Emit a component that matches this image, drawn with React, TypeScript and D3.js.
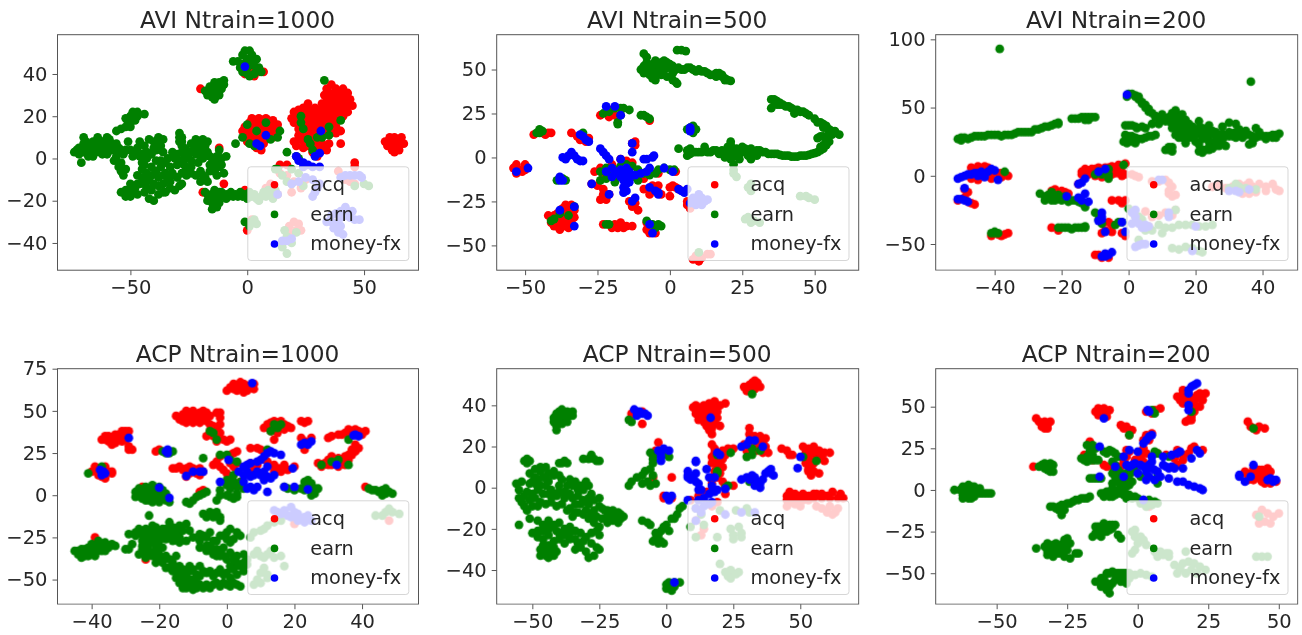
import * as d3 from "d3";
import React from "react";
import { useRef, useEffect } from "react";

type Pt = [number, number];

const categories = ["acq", "earn", "money-fx"];
const colors = ["#ff0000", "#008000", "#0000ff"];

// AVI Ntrain=1000
const avi1000Acq: Pt[] = [[-1,40],[3,39],[5,41],[7,41],[2,42],[-20,33],[2,19],[5,19],[8,19],[11,18],[13,16],[1,17],[4,17],[7,17],[10,16],[-1,15],[1,14],[4,14],[7,14],[10,14],[12,13],[-2,13],[0,12],[3,11],[6,11],[9,11],[11,10],[2,9],[5,8],[7,7],[4,5],[6,4],[0,8],[3,7],[36,35],[34,33],[38,33],[35,31],[37,31],[41,33],[33,30],[35,29],[38,29],[40,30],[43,31],[34,27],[36,27],[39,27],[41,28],[44,28],[32,26],[34,25],[37,25],[40,25],[43,25],[45,25],[31,23],[33,22],[36,23],[38,23],[41,23],[43,22],[30,20],[32,19],[35,20],[38,20],[41,20],[28,18],[31,16],[34,17],[37,18],[27,15],[30,14],[33,14],[36,15],[26,12],[29,11],[32,11],[35,12],[38,12],[40,13],[26,26],[24,24],[22,23],[20,22],[27,23],[29,24],[30,22],[26,21],[23,21],[19,19],[20,17],[24,18],[27,18],[26,16],[22,14],[25,12],[20,8],[22,9],[24,8],[27,8],[21,6],[24,5],[26,6],[29,7],[32,7],[35,7],[40,7],[28,3],[31,3],[34,4],[30,1],[59,8],[61,10],[63,10],[66,10],[60,6],[62,8],[64,8],[66,7],[67,7],[62,5],[64,5],[63,3],[62,4],[65,4],[-12,5],[-19,-16],[-10,-12],[-1,-15],[17,-3],[46,-2],[46,-4],[14,-3],[0,-34],[2,-29],[14,-7],[17,-8],[20,-11],[10,-13],[8,-14],[13,-17],[19,-16],[23,-14],[25,-10],[39,-6],[42,-10],[44,-11],[46,-12],[18,-32],[20,-30],[22,-31],[23,-34],[17,-35],[19,-36],[21,-34],[10,-12],[3,18],[6,18],[9,18],[2,15],[5,15],[8,15],[11,15],[1,11],[4,9],[8,9],[3,13],[6,13],[9,13],[39,31],[37,29],[42,30],[35,27],[38,26],[42,26],[35,23],[39,22],[33,21],[37,21],[40,22],[30,18],[33,18],[36,18],[39,18],[29,16],[32,14],[35,14],[38,15],[27,13],[30,12],[33,12],[23,10],[25,9],[28,9],[31,9],[25,6],[30,5],[33,5],[25,23],[28,22],[24,20],[21,20],[21,18],[25,18],[23,15],[29,20],[22,11]];
const avi1000Earn: Pt[] = [[-1,51],[1,51],[-2,49],[2,49],[0,47],[-4,46],[-1,45],[2,46],[4,47],[-3,43],[0,43],[3,44],[5,43],[-2,41],[0,40],[1,39],[6,41],[-6,46],[3,40],[-10,37],[-12,36],[-14,36],[-16,34],[-13,34],[-10,35],[-18,32],[-16,32],[-14,32],[-11,33],[-17,30],[-15,30],[-13,31],[-14,28],[-15,29],[-12,30],[-44,21],[-47,22],[-49,22],[-50,20],[-47,20],[-49,18],[-51,17],[-48,18],[-52,15],[-54,14],[-50,15],[-56,13],[-52,19],[-74,3],[-72,5],[-72,2],[-71,-2],[-70,7],[-70,10],[-70,3],[-68,5],[-68,1],[-66,8],[-66,4],[-66,1],[-64,10],[-64,6],[-63,3],[-62,8],[-61,5],[-60,10],[-60,2],[-58,7],[-58,4],[-57,-1],[-56,4],[-55,-4],[-54,-6],[-53,-8],[-55,5],[-52,4],[-50,4],[-48,3],[-46,1],[-45,-2],[-51,8],[-46,8],[-44,6],[-42,9],[-40,8],[-38,10],[-36,9],[-37,6],[-40,5],[-43,3],[-45,-5],[-47,-8],[-43,-7],[-41,-4],[-39,-1],[-37,-4],[-35,-7],[-33,-4],[-34,0],[-32,3],[-30,2],[-28,3],[-27,0],[-30,-3],[-32,-7],[-34,-10],[-36,-12],[-38,-9],[-40,-12],[-42,-10],[-44,-12],[-46,-12],[-48,-14],[-50,-12],[-52,-15],[-54,-16],[-52,-18],[-50,-18],[-49,-15],[-47,-17],[-44,-16],[-42,-19],[-40,-20],[-38,-17],[-36,-16],[-33,-14],[-31,-15],[-29,-13],[-33,-11],[-30,-9],[-28,-7],[-29,12],[-28,10],[-29,8],[-28,6],[-26,4],[-24,7],[-22,9],[-20,8],[-22,5],[-25,2],[-24,-1],[-22,2],[-20,4],[-18,6],[-17,3],[-19,0],[-21,-2],[-24,-4],[-26,-5],[-22,-8],[-20,-11],[-18,-9],[-16,-6],[-15,-2],[-13,1],[-12,4],[-11,0],[-9,1],[-12,-4],[-10,-7],[-13,-8],[-15,-5],[-18,-16],[-16,-18],[-14,-15],[-12,-16],[-17,-20],[-15,-21],[-13,-20],[-11,-18],[-9,-17],[-7,-16],[-5,-17],[-3,-16],[-1,-17],[-15,-24],[-13,-23],[-16,-19],[-9,-19],[2,-18],[4,-19],[6,-18],[8,-18],[10,-17],[12,-15],[1,-16],[0,16],[8,17],[4,13],[-2,10],[-5,7],[1,7],[10,9],[13,10],[14,13],[3,6],[17,3],[33,37],[23,20],[23,17],[24,14],[26,9],[27,7],[30,10],[32,10],[35,15],[35,11],[40,18],[28,4],[22,0],[21,1],[12,-5],[13,-5],[19,-5],[16,-34],[17,-37],[15,-42],[17,-45],[19,-40],[21,-35],[2,-30],[1,-32],[3,-29],[-1,-30],[4,-31],[17,-11],[19,-12],[15,-8],[24,-13],[46,-13],[52,-13],[50,-12],[22,-7],[-73,4],[-71,4],[-69,8],[-69,5],[-67,6],[-67,3],[-65,6],[-65,3],[-63,8],[-63,5],[-62,2],[-61,8],[-59,6],[-59,9],[-60,5],[-57,5],[-56,7],[-54,4],[-53,2],[-56,1],[-54,-2],[-52,-5],[-49,1],[-47,5],[-45,2],[-43,0],[-44,-3],[-41,2],[-39,4],[-38,7],[-36,3],[-35,-2],[-36,-8],[-39,-6],[-41,-8],[-43,-11],[-45,-9],[-41,-15],[-38,-13],[-35,-16],[-43,-14],[-47,-12],[-50,-15],[-37,-1],[-33,-8],[-31,0],[-29,-1],[-27,-3],[-26,-8],[-24,-7],[-28,-12],[-20,1],[-18,3],[-16,1],[-17,8],[-19,9],[-21,6],[-23,4],[-20,6],[-16,-3],[-14,-1],[-14,-6],[-11,-3],[-17,-11],[-19,-8],[-20,-6],[-13,-3],[-15,-17],[-13,-18],[-11,-16],[-17,-17],[-14,-19],[-12,-21],[-8,-18],[-6,-18],[-4,-18],[-2,-18],[0,-19],[3,-17],[5,-20],[7,-16],[9,-15],[11,-19],[-29,10],[-28,8],[-27,5]];
const avi1000Money: Pt[] = [[-1,43.5],[8,11],[4,7],[5.5,6],[31.5,13],[31,2.5],[29,1],[21,1],[22,-1],[24,-2],[26,-3],[28,-4],[31,-4],[24,-4],[13,-17],[19,-12],[22,-11],[25,-9],[28,-10],[29,-16],[28,-18],[30,-14],[31,-12],[42,-8],[44,-8],[46,-8],[48,-8],[49,-9],[40,-9],[15,-39],[17,-39],[19,-38],[34,-30],[36,-30],[38,-31],[40,-28],[42,-27],[44,-28],[46,-29],[48,-29],[42,-23],[43,-25],[37,-33],[39,-35],[41,-36],[36,-27],[38,-26],[40,-25],[45,-25],[40,-32]];

// AVI Ntrain=500
const avi500Acq: Pt[] = [[-54,-6],[-53,-4],[-52,-7],[-50,-4],[-51,-8],[-50,-7],[-53,-9],[-47,13],[-44,14],[-42,14],[-41,14],[-43,13],[-34,14],[-32,12],[-30,12],[-28,11],[-29,9],[-31,10],[-42,-33],[-41,-35],[-40,-37],[-39,-39],[-38,-41],[-37,-39],[-36,-37],[-35,-40],[-38,-35],[-39,-32],[-37,-32],[-35,-30],[-36,-27],[-34,-27],[-33,-30],[-33,-34],[-34,-36],[-40,-33],[-36,-34],[-23,-38],[-20,-40],[-19,-38],[-18,-40],[-17,-37],[-16,-40],[-15,-39],[-13,-39],[-8,-41],[-7,-43],[-5,-43],[-8,-37],[-26,-8],[-24,-6],[-23,-10],[-21,-8],[-19,-11],[-17,-1],[-15,-2],[-13,-3],[-11,-10],[-9,-12],[-27,-15],[-25,-16],[-23,-18],[-24,-24],[-22,-24],[-23,-21],[-21,-21],[-14,-25],[-13,-28],[-11,-30],[-12,-26],[-6,-16],[-7,-21],[-5,-19],[-3,-21],[-9,-18],[-4,-16],[0,-22],[0,-17],[1,-16],[2,-17],[3,-18],[-12,9],[-13,8],[-12,7],[-24,24],[-21,23],[-19,24],[-20,27],[-7,21],[-20,-4],[2,-8],[-4,-9],[6,-25],[6,-27],[7,-29],[9,-56],[11,-57],[10,-59],[8,-58],[13,-55],[14,-55],[-41,-37],[-39,-36],[-37,-36],[-38,-38],[-36,-39],[-40,-39],[-35,-35],[-37,-29],[-34,-32]];
const avi500Earn: Pt[] = [[-9,59],[-8,57],[2.5,61],[4,61],[5.5,60.5],[-10,50],[-9,52],[-8,54],[-7,51],[-6,53],[-5,55],[-4,52],[-3,54],[-2,55],[-1,51],[0,53],[1,52],[2,50],[3,51],[5,50],[7,51],[9,49],[11,49],[13,48],[15,47],[17,48],[18,46],[19,45],[20,44],[21,43.5],[-9,48],[-7,47],[-6,45],[-5,44],[-3,47],[-1,46],[1,48],[1,44],[2,43],[2.5,42],[-8,49],[-4,49],[14,47],[16,46],[35,33],[36,32],[38,31],[39,30],[37,30],[40,29],[42,28],[44,27],[45,26],[47,25],[43,25],[35,28],[48,24],[52,20],[54,18],[53,17],[55,16],[56,15],[57,14],[58.5,13],[55,13],[52,12],[51,11],[54,11],[55,9],[54,7],[53,5],[52,4],[50,2.5],[48,1.5],[46,1],[44,0.5],[42,0.5],[40,1],[38,1.5],[36,2],[34,2],[32,3],[30,4],[28,5],[26,3],[24,2],[22,1],[20,3],[18,4],[16,4],[21,7],[21,9],[23,5],[25,6],[27,1],[24,-1],[21,-1],[19,0],[17,2],[14,3],[12,6],[10,3],[8,3],[6,1],[6,4],[7,5],[3,5],[28,-1],[22,-4],[30,1],[22,-7],[22,-9],[23,-11],[27,-17],[28,-15],[28,-19],[45,-22],[47,-22],[48,-23],[50,-24],[27,-34],[28,-37],[29,-36],[31,-37],[26,-35],[10,-54],[7,17],[8,18],[6,16],[9,16],[8,14],[-23,25],[-21,26],[-19,28],[-17,28],[-16,28],[-14,27],[-17,24],[-18,20],[-18,19],[-10,24],[-9,24],[-8,23],[-7,22],[-46,14],[-45,16],[-44,15],[-45,14],[-24,-8],[-22,-6],[-21,-9],[-19,-7],[-17,-5],[-15,-4],[-13,-5],[-11,-7],[-9,-9],[-7,-10],[-5,-9],[-4,-7],[-2,-6],[0,-7],[1.5,-7],[-17,-11],[-19,-14],[-22,-12],[-24,-13],[-11,-13],[-13,-11],[-39,-13],[-36,-13],[-37,-12],[-41,-36],[-40,-35],[-38,-32],[-35,-33],[-33,-28],[-21,-38],[-22,-38],[-8,-36],[-6,-38],[-5,-40],[-4,-38],[-3,-39],[-30,14],[4,50],[6,51],[8,50],[10,50],[12,49],[16,48],[18,47],[19,44],[36,33],[37,32],[38,30],[41,29],[43,27],[46,26],[50,22],[51,20],[53,19],[54,17],[55,15],[57,15],[56,13],[53,12],[54,9],[53,7],[52,6],[51,3],[49,2],[47,1],[45,1],[43,0.5],[41,1],[39,1],[37,2],[35,2],[33,3],[31,4],[29,3],[27,4],[25,3],[23,3],[22,4],[20,1],[18,2],[15,4],[13,3],[11,3],[9,3],[7,2],[24,4],[26,5],[21,3],[20,6],[-6,49],[-2,50],[-1,54],[-3,51],[-8,51],[-5,47],[-7,49],[-9,50]];
const avi500Money: Pt[] = [[-22,29],[-19,29],[-17,24],[-24,5],[-23,3],[-22,1],[-21,-1],[-37,0],[-36,-1],[-35,1],[-34,3],[-33,1],[-32,-1],[-31,-2],[-30,-2],[-31,13],[-30,12],[-29,10],[-28,9],[-13,8],[-13,3],[-17,-1],[-9,-1],[-8,-1],[-6,0],[-5.5,1],[-53,-8],[-49,-6],[-38,-11],[-38,-12],[-38,-13],[-37,-13],[-27,-15],[-21,-21],[-38,-30],[-33,-28],[-33,-39],[-7,-38],[-6,-43],[-7,-17],[-5,-19],[-4,-20],[-4,-21],[-13,-25],[-12,-23],[6,-18],[-2,-6],[1,-8],[3,-18],[4,-19],[5,-20],[7,15],[7,16],[7,17],[-22,-8],[-20,-6],[-19,-8],[-18,-9],[-17,-7],[-16,-9],[-15,-6],[-14,-8],[-17,-11],[-16,-13],[-15,-10],[-14,-12],[-15,-15],[-16,-17],[-15,-19],[-16,-20],[-12,-10],[-10,-9],[-8,-8],[-7,-6],[-20,-11],[-14,-14],[8,-23],[9,-25],[10,-21],[11,-23],[12,-25],[9,-27],[7,-26],[13,-24],[11,-27]];

// AVI Ntrain=200
const avi200Acq: Pt[] = [[-47,6],[-45,7],[-43,7],[-46,4],[-44,3],[-42,4],[-40,3],[-38,2],[-37,1],[-36,0],[-38,-1],[-41,-2],[-45,-3],[-47,-2],[-49,-10],[-48,-12],[-51,-18],[-49,-16],[-48,-19],[-46,-21],[-47,-20],[-41,-44],[-39,-43],[-38,-44],[-37,-43],[-36,-42],[-14,3],[-13,5],[-11,5],[-9,6],[-7,6],[-5,7],[-3,8],[-1,9],[-14,1],[-12,1],[-10,0],[-8,-1],[-5,1],[-3,2],[-2,2],[-1,1],[-3,5],[-15,-6],[-22,-10],[-20,-11],[-18,-13],[-5,-18],[-3,-18],[-1,-18],[-2,-20],[-23,-38],[-21,-40],[-6,-34],[-5,-36],[-8,-42],[-7,-40],[-5,-41],[-2,-42],[-1,-44],[-10,-58],[-9,-58],[-8,-60],[-6,-60],[1,1],[2,0],[3,-1],[7,-4],[9,-4],[11,-3],[12,-5],[13,-8],[12,-11],[12,-13],[13,-15],[14,-14],[25,-8],[27,-7],[29,-9],[31,-8],[33,-6],[35,-7],[36,-5],[37,-8],[39,-6],[41,-8],[43,-6],[45,-11],[34,-13],[36,-13],[38,-12],[41,-11],[44,-10],[5,-26],[7,-30],[9,-29],[11,-27],[13,-29],[14,-25],[6,-37],[-44,5],[-42,6],[-41,3],[-39,2],[-37,2],[-12,4],[-10,5],[-8,5],[-6,6],[-4,6],[-2,7],[-13,2],[-11,2],[-9,1],[-7,1],[-4,2],[-2,0],[-23,-11],[-19,-12]];
const avi200Earn: Pt[] = [[-38.5,93],[36.5,69],[-51,27],[-50,26],[-49,28],[-47,28],[-45,29],[-43,29],[-41,30],[-39,30],[-37,30],[-35,30],[-33,32],[-31,32],[-29,32],[-28,34],[-26,35],[-25,36],[-23,37],[-22,38],[-21,39],[-17,42],[-15,42],[-14,43],[-13,41],[-12,43],[-11,43],[-10,43],[-1,37],[1,37],[2.5,35],[-1,30],[1,29],[3,27],[5,28],[7,29],[8,30],[-1.5,25],[0,25],[2,24],[-0.5,58],[0,60],[1,60],[2,58],[3,58],[3,56],[4,54],[5,52],[6,49],[7,46],[8,44],[9,42],[5,35],[7,38],[9,38],[10,45],[11,40],[12,43],[13,46],[14,48],[15,43],[16,45],[17,41],[13,38],[14,35],[15,33],[16,37],[17,35],[18,38],[19,33],[20,30],[21,40],[22,35],[23,33],[24,37],[26,32],[28,36],[27,30],[30,39],[32,38],[33,34],[35,33],[36,30],[38,35],[39,32],[40,29],[42,29],[43,28],[44,30],[45,31],[41,27],[37,25],[36,23],[37,24],[34,28],[32,28],[30,29],[28,27],[26,26],[24,25],[22,27],[20,25],[18,28],[17,24],[16,28],[14,30],[12,19],[12,20],[13,21],[27,22],[25,20],[23,19],[21,18],[22,17],[24,19],[21,23],[29,22],[31,29],[34,31],[-26.5,-13],[-25,-15],[-24,-14],[-23,-12],[-22,-15],[-21,-14],[-25,-18],[-23,-18],[-21,-17],[-19,-15],[-18,-19],[-16,-18],[-14,-20],[-13,-23],[-21,-38],[-20,-38],[-18,-38],[-16,-38],[-14,-38],[-13,-37],[-41,-42],[-40,-42],[-39,-42],[-10,-27],[-9,-32],[-8,-35],[-4,-36],[-3,-34],[-2,-34],[-10,1],[-9,3],[-8,1],[-6,-1],[-6,1],[-6,5],[-1.5,8],[-37,3],[-6,-2],[0,-24],[1,-26],[2,-30],[4,-32],[9,-36],[11,-38],[13,-38],[15,-36],[17,-36],[19,-36],[21,-37],[23,-37],[25,-36],[7,-40],[10,-42],[3,-30],[14,-25],[13,-53],[15,-54],[17,-52],[19,-53],[21,-55],[22,-56],[3,-47],[32,-6],[35,-9],[33,-8],[38,-10],[30,-9],[5,-40],[-50,28],[-48,27],[-46,29],[-44,29],[-42,30],[-40,30],[-38,29],[-36,30],[-34,31],[-32,32],[-30,32],[-27,34],[-24,36],[-21,38],[-16,42],[-13,43],[-12,41],[0,37],[2,36],[4,36],[0,29],[2,28],[4,27],[6,29],[-0.5,24],[1,25],[2,59],[3,57],[4,53],[5,50],[6,47],[8,43],[10,41],[12,40],[14,41],[15,38],[16,40],[18,35],[19,36],[20,33],[21,35],[22,31],[23,29],[24,30],[25,33],[26,29],[28,31],[29,29],[30,32],[31,31],[32,32],[33,29],[35,30],[37,29],[38,28],[39,29],[41,29],[43,30],[44,28],[18,30],[19,28],[15,28],[16,32],[13,35],[11,19],[12,21],[13,18],[24,21],[26,22],[28,24],[22,19],[-24,-16],[-23,-15],[-22,-18],[-20,-16],[-20,-18],[-17,-18],[-15,-19],[-19,-38],[-17,-39],[-15,-38],[-13,-38],[-40,-41]];
const avi200Money: Pt[] = [[-51,-2],[-50,-1],[-49,0],[-48,1],[-47,1],[-46,2],[-45,2],[-44,3],[-42,3],[-41,5],[-40,4],[-39,-3],[-43,-1],[-45,0],[-49,-9],[-51,-17],[-50,-17],[-49,-18],[-48,-19],[-13,-2],[-14,-5],[-15,-6],[-9,3],[-7,5],[-18.5,-15],[-15,-16],[-14,-18],[-13,-13],[-12,-19],[-8,-27],[-8,-30],[-9,-33],[-8,-32],[-7,-41],[-2,-34],[-1,-41],[-7,-57],[-6,-58],[-5,-56],[-7,-59],[-8,-59],[-0.5,59.5],[1,-27],[2,-30],[1,-35],[3,-35],[4,-38],[5,-36],[5,-38],[6,-37],[2,-25],[10,-3],[9,-3],[2,-52],[3,-51],[4,-50],[5,-50],[19,-55],[20,-37],[30,-11],[32,-11],[33,-12],[36,-10],[12,-30],[12,-27]];

// ACP Ntrain=1000
const acp1000Acq: Pt[] = [[0,62],[1,64],[2,66],[3,65],[4,67],[5,66],[6,65],[5,63],[7,64],[8,63],[8,66],[6,62],[3,62],[2,63],[5,61],[-15,47],[-14,45],[-13,48],[-12,50],[-11,48],[-10,50],[-9,48],[-8,49],[-7,50],[-6,49],[-13,44],[-11,45],[-9,45],[-7,46],[-10,43],[-8,43],[-5,47],[-3,49],[-2,49],[-2,46],[-6,44],[-5,42],[-4,41],[-3,40],[-2,42],[-5,38],[-4,35],[-2,37],[-6,35],[-3,32],[-1,33],[0,32],[1,33],[-36,33],[-35,35],[-34,33],[-33,36],[-32,36],[-31,38],[-30,38],[-29,38],[-31,35],[-30,36],[-33,31],[-31,32],[-29,29],[-28,27],[-29,27],[-34,30],[-36,35],[-37,33],[-40,14],[-39,17],[-38,16],[-36,17],[-35,14],[-34,14],[-38,12],[-37,11],[-36,10],[-34,13],[-21,26],[-20,27],[-16,16],[-15,16],[-14,17],[-13,15],[-12,16],[-11,17],[-10,16],[-8,16],[-7,14],[-11,13],[-12,11],[-9,13],[-8,12],[-4,18],[-3,20],[-2,17],[-1,15],[0,13],[1,11],[1,19],[2,17],[2,25],[1,24],[3,26],[3,19],[-2,23],[7,28],[9,28],[10,27],[9,18],[8,15],[6,13],[4,8],[7,19],[12,20],[14,18],[16,16],[17,18],[18,15],[20,17],[16,14],[14,14],[15,16],[11,40],[12,42],[13,41],[14,44],[15,43],[16,44],[17,42],[18,41],[19,40],[13,38],[15,37],[14,33],[17,39],[22,44],[23,43],[24,44],[22,34],[23,32],[25,34],[23,27],[30,34],[31,35],[33,36],[35,37],[36,39],[38,39],[39,38],[41,38],[40,36],[38,30],[37,27],[38,26],[36,24],[39,28],[37,24],[36,21],[33,22],[31,23],[30,21],[29,19],[27,19],[28,17],[31,18],[33,17],[35,18],[34,21],[41,5],[-8,2],[-7,3],[-25,5],[-39,-25],[-24,-38],[20,-17],[48,-15],[-12,47],[-10,47],[-8,46],[-6,47],[-12,43],[-33,34],[-32,33],[-30,33],[-35,32],[-38,14],[-36,13],[-3,36],[-4,39],[13,43],[15,41],[17,41],[37,38],[37,36],[34,36],[35,23],[32,20],[30,18],[37,26]];
const acp1000Earn: Pt[] = [[-41,13],[-37,17],[-27,2],[-26,4],[-24,5],[-22,6],[-20,5],[-25,1],[-23,3],[-21,2],[-19,3],[-18,1],[-27,-1],[-25,-2],[-23,-1],[-21,-2],[-19,0],[-24,-3],[-22,-4],[-20,-4],[-18,-3],[-17,-4],[-12,-4],[-11,-5],[-10,-3],[-9,-1],[-8,0],[-7,1],[-6,2],[-3,-3],[-2,0],[-2,3],[0,0],[1,-1],[2,-2],[3,-1],[0,6],[1,9],[0,9],[1,4],[2,8],[3,5],[2,12],[3,1],[4,8],[5,4],[-2,24],[1,21],[3,20],[-7,22],[0,24],[-18,25],[-19,26],[-17,25],[-16,26],[-5,38],[-4,37],[-3,33],[13,38],[14,42],[15,40],[16,42],[12,27],[17,5],[18,4],[20,3],[22,4],[24,9],[25,7],[26,4],[27,4],[26,1],[25,0],[23,3],[23,8],[24,5],[28,18],[31,20],[33,21],[36,18],[36,33],[42,4],[43,3],[44,3],[45,2],[46,3],[47,4],[47,1],[48,2],[49,1],[46,0],[44,-12],[46,-12],[47,-10],[48,-8],[49,-10],[51,-11],[7,-25],[8,-22],[10,-21],[11,-20],[12,-18],[14,-16],[16,-15],[8,-35],[9,-33],[10,-36],[11,-37],[12,-35],[13,-33],[14,-37],[16,-36],[17,-42],[11,-43],[10,-46],[12,-47],[9,-50],[8,-53],[10,-52],[12,-49],[-45,-33],[-44,-35],[-43,-37],[-43,-32],[-42,-34],[-41,-36],[-41,-31],[-40,-33],[-39,-36],[-39,-30],[-38,-33],[-38,-27],[-37,-30],[-36,-33],[-36,-28],[-35,-31],[-34,-29],[-33,-30],[-40,-29],[-23,-12],[-7,-11],[-6,-13],[-4,-13],[-3,-12],[-2,-13],[-2,-15],[-5,-10],[-3,-10],[-29,-23],[-27,-22],[-26,-20],[-24,-20],[-22,-18],[-21,-19],[-17,-16],[-16,-19],[-14,-18],[-12,-17],[-13,-21],[-11,-21],[-17,-22],[-15,-23],[-19,-23],[-21,-24],[-23,-25],[-25,-27],[-24,-30],[-22,-28],[-20,-27],[-18,-26],[-16,-27],[-14,-28],[-8,-27],[-7,-24],[-5,-22],[-3,-27],[-1,-24],[1,-20],[3,-22],[2,-26],[4,-24],[-3,-32],[-1,-31],[-5,-30],[-6,-33],[-4,-35],[-2,-36],[1,-34],[0,-38],[2,-38],[3,-36],[5,-35],[5,-40],[6,-38],[-29,-32],[-30,-32],[-28,-29],[-26,-35],[-25,-32],[-24,-37],[-22,-34],[-20,-35],[-21,-40],[-19,-40],[-18,-43],[-16,-40],[-14,-42],[-16,-45],[-14,-47],[-12,-47],[-10,-44],[-8,-42],[-12,-52],[-10,-50],[-8,-48],[-6,-46],[-4,-48],[-2,-44],[0,-46],[2,-44],[4,-42],[6,-41],[-14,-52],[-12,-55],[-10,-56],[-8,-53],[-6,-53],[-4,-53],[-2,-54],[0,-53],[2,-52],[4,-54],[-13,-50],[-11,-45],[-27,-24],[-25,-23],[-23,-22],[-21,-21],[-19,-20],[-24,-26],[-22,-25],[-20,-24],[-25,-30],[-23,-29],[-21,-30],[-19,-31],[-23,-33],[-21,-33],[-24,-34],[-22,-36],[-20,-38],[-18,-36],[-17,-38],[-15,-36],[-17,-43],[-15,-44],[-13,-44],[-11,-42],[-15,-49],[-13,-47],[-11,-50],[-9,-47],[-7,-45],[-5,-45],[-3,-46],[-1,-47],[1,-49],[3,-47],[5,-45],[-11,-53],[-9,-55],[-7,-55],[-5,-55],[-3,-52],[-1,-52],[1,-54],[3,-53],[-12,-45],[-9,-52],[-13,-55],[-4,-32],[-2,-33],[-6,-30],[-8,-31],[-10,-25],[-8,-23],[-6,-25],[-4,-27],[-2,-24],[0,-26],[1,-28],[0,-22],[-12,-27],[-14,-25],[-16,-24],[-15,-20],[-18,-20],[-3,-36],[-1,-36],[3,-40],[1,-42],[-44,-33],[-42,-36],[-42,-32],[-40,-31],[-38,-30],[-37,-33],[-36,-30],[-39,-33],[-24,2],[-22,3],[-21,4],[-20,1],[-23,0],[-25,3],[-26,0],[-21,0],[-19,-2],[-20,-2],[-23,-3]];
const acp1000Money: Pt[] = [[7.5,66.5],[-29,34],[-18,26],[-17.5,27],[-17.5,25],[-37.5,15],[-36.5,14],[-36,13],[-37,12],[-12,11.5],[-10,14],[-8,14],[-7,14],[0.5,21],[-2,8],[-20,4.5],[-17,-1.5],[3.5,14],[5,17],[6,18],[7,19],[9,20],[10,21],[11,23],[12,25],[13,26],[14,25],[16,24],[5,12],[6,14],[7,11],[8,12],[9,14],[10,12],[11,14],[12,17],[12,11],[13,10],[14,12],[5,8],[6,4],[7,5],[8,3],[9,5],[11,9],[12,2],[17,5],[20,5],[19.5,16],[24,3.5],[22,30],[23,31],[24,30],[25,32],[32.5,18],[37.5,35.5],[38,36],[39,35],[14,-9],[15,-10],[17,-9],[19,-7],[20,-10],[18,-12],[16,-11],[21,-11],[23,-13],[24,-12],[25,-15],[23,-16],[21,-15],[19,-13]];

// ACP Ntrain=500
const acp500Acq: Pt[] = [[32,51],[33,52],[34,51],[29,49],[31,50],[33,48],[35,49],[30,47],[32,47],[10,39],[12,38],[14,40],[16,41],[18,42],[20,40],[22,41],[11,36],[13,35],[15,37],[17,38],[19,37],[14,32],[16,33],[18,31],[20,30],[12,33],[15,30],[16,28],[17,26],[11,40],[17,29],[19,34],[13,39],[31,29],[31,26],[-10,36],[-12,37],[-9,37],[-13,36],[-9,31],[-3,22],[-4,18],[2,5],[-1,-4],[-1,-5],[2,-5],[-5,5],[17,21],[18,19],[19,17],[21,18],[23,19],[25,19],[17,15],[19,14],[21,14],[17,12],[19,11],[21,10],[18,8],[20,7],[19,5],[21,3],[22,1],[22,-3],[25,1],[17,2],[15,-2],[12,-4],[9,-6],[30,20],[32,24],[35,25],[37,24],[34,22],[37,20],[38,17],[36,17],[33,20],[29,21],[34,18],[30,18],[43,19],[45,18],[46,16],[47,16],[51,20],[53,19],[55,20],[57,18],[59,17],[61,17],[52,17],[55,16],[57,14],[59,13],[52,12],[55,12],[54,10],[53,8],[54,6],[55,8],[57,7],[45,-4],[46,-2],[48,-3],[49,-5],[51,-3],[53,-4],[45,-6],[47,-5],[55,-3],[56,-3],[58,-3],[60,-4],[62,-2],[65,-3],[66,-5],[64,-5],[61,-5],[58,-5],[55,-5],[52,-5],[49,-7],[51,-6],[47,-7],[45,-9],[48,-8],[50,-9],[56,-9],[58,-10],[60,-12],[62,-13],[64,-10],[61,-9],[63,-12],[11,-16],[14,-20],[13,-23],[17,-9],[19,-7],[11,38],[13,37],[15,39],[17,40],[19,39],[12,35],[14,36],[16,35],[18,35],[15,33],[17,31],[31,47],[33,50],[18,17],[20,16],[18,13],[20,12],[22,16],[32,22],[33,25],[36,22],[35,21],[54,18],[56,18],[53,15],[56,15],[58,16],[54,13],[53,9],[47,-4],[50,-4],[53,-6]];
const acp500Earn: Pt[] = [[-42,34],[-41,36],[-40,37],[-39,38],[-37,37],[-35,37],[-42,32],[-40,33],[-38,35],[-36,35],[-35,35],[-41,30],[-39,31],[-37,32],[-41,28],[-52,14],[-53,13],[-51,13],[-52,12],[-40,12],[-39,12],[-38,13],[-37,12],[-31,14],[-29,14],[-28,16],[-27,14],[-26,13],[-25,13],[-55,-1],[-56,2],[-54,3],[-55,-5],[-54,-7],[-53,-4],[-53,-9],[-52,-11],[-51,-6],[-51,7],[-49,5],[-49,2],[-47,8],[-46,5],[-47,1],[-46,-3],[-49,-5],[-47,-7],[-45,10],[-44,7],[-44,3],[-43,-1],[-43,-7],[-41,-4],[-42,6],[-40,6],[-41,-9],[-38,-5],[-40,1],[-37,1],[-36,4],[-34,3],[-33,-1],[-32,1],[-30,3],[-29,1],[-28,-3],[-35,-5],[-34,-8],[-31,-6],[-29,-8],[-27,-6],[-25,-5],[-25,-9],[-27,-11],[-37,-11],[-35,-14],[-33,-12],[-31,-13],[-29,-15],[-27,-17],[-25,-19],[-26,-21],[-55,-18],[-51,-15],[-48,-16],[-46,-18],[-44,-16],[-42,-18],[-40,-17],[-41,-21],[-38,-20],[-36,-19],[-34,-21],[-32,-22],[-30,-24],[-50,-22],[-48,-24],[-46,-25],[-44,-23],[-42,-26],[-40,-25],[-38,-27],[-36,-25],[-47,-30],[-45,-31],[-43,-33],[-41,-31],[-45,-33],[-34,-30],[-32,-29],[-30,-31],[-28,-27],[-25,-30],[-27,-33],[-26,-29],[-29,-34],[-24,-10],[-23,-11],[-22,-14],[-21,-12],[-20,-11],[-19,-13],[-18,-14],[-17,-15],[-16,-14],[-22,-17],[-20,-16],[-18,-17],[-17,-13],[-9,-16],[-7,-17],[-6,-18],[-5,-26],[-4,-25],[-3,-23],[-2,-21],[-1,-19],[0,-18],[1,-21],[-3,-27],[-2,-26],[-1,-27],[-4,-22],[2,-15],[3,-15],[4,-13],[5,-10],[6,-9],[-14,1],[-13,3],[-11,5],[-9,6],[-8,8],[-6,9],[-5,6],[-7,3],[-9,2],[-6,1],[-5,12],[-4,2],[-5,16],[-6,17],[-5,14],[-3,17],[0,16],[1,15],[-14,33],[-13,32],[0,-49],[0,-47],[1,-46],[2,-47],[2,-50],[3,-48],[1,-48],[3,-46],[5,-46],[19,16],[24,17],[19,8],[19,7],[23,1],[22,0],[32,16],[32,19],[30,15],[35,18],[32,45.5],[31,3],[51,15],[56,13],[11,-10],[13,-13],[20,-11],[9,-19],[14,-18],[11,-24],[19,-24],[24,-20],[25,-23],[28,-22],[27,-19],[28,-24],[25,-25],[30,-10],[31,-12],[26,-11],[20,-37],[23,-43],[24,-40],[26,-42],[24,-44],[22,-41],[27,-41],[-52,-2],[-51,2],[-50,-3],[-48,-1],[-48,4],[-47,10],[-45,5],[-45,1],[-44,-3],[-42,-3],[-40,-2],[-42,8],[-39,4],[-45,-8],[-43,-4],[-50,-9],[-48,-9],[-39,-8],[-38,-2],[-36,-10],[-34,-12],[-32,-8],[-30,-11],[-28,-13],[-26,-14],[-24,-15],[-43,-19],[-40,-22],[-44,-20],[-46,-21],[-48,-21],[-38,-23],[-36,-22],[-34,-25],[-42,-29],[-44,-28],[-46,-28],[-43,-31],[-47,-33],[-44,-34],[-42,-33],[-33,-27],[-31,-26],[-28,-22],[-25,-23],[-27,-13],[-33,-4],[-31,-1],[-29,-5],[-36,-3],[-35,1],[-22,-11],[-20,-14],[-18,-12],[-21,-15],[-50,3],[-49,9]];
const acp500Money: Pt[] = [[-12,38],[-11,37],[-11,35],[-10,37],[-9,36],[-8,36],[-7,35],[-3,18],[-2,17],[-1,19],[1,18],[-2,15],[-2,13],[2,-4],[1,-5],[0,-4],[1,-6],[8,-6],[20,16],[19,17],[15,9],[16,5],[18,5],[11,12.5],[8,8],[8,6],[9,4],[10,5],[11,3],[12,2],[8,5],[11,7],[13,-1],[12,-1],[17,1],[17,-2],[18,-2],[19,-1],[16,-3],[14,-5],[12,-6],[28,20],[30,21],[31,23],[33,23],[36,20],[28,4],[30,5],[31,4],[32,6],[33,5],[34,3],[35,2],[33,1],[35,0],[36,4],[37,7],[38,8],[39,7],[39,9],[40,6],[49,9.5],[50,15],[3,-46],[22,-0.5],[11,-10],[14,-9],[17,-7],[13,-12],[11,-16],[22,-13],[28,-12],[33,-12],[16,-8],[16.5,34],[11,13]];

// ACP Ntrain=200
const acp200Acq: Pt[] = [[-36,43],[-35,41],[-33,41],[-32,39],[-31,41],[-34,38],[-33,37],[-32,37],[-15,47],[-14,49],[-12,49],[-11,47],[-10,48],[-14,45],[-12,45],[-11,44],[-6,39],[-5,37],[-3,36],[-2,36],[-3,33],[-4,38],[3,47],[6,48],[8,49],[5,46],[14,56],[16,60],[18,57],[20,55],[22,58],[24,58],[15,54],[17,54],[19,53],[22,55],[23,54],[20,50],[22,50],[18,42],[19,44],[17,41],[20,47],[19,42],[39,41],[40,38],[41,37],[43,38],[45,37],[42,36],[-37,14],[-19,21],[-17,29],[-16,18],[-12,15],[-11,14],[-9,14],[-6,14],[-5,20],[-4,24],[-3,23],[-5,17],[-4,15],[-1,18],[1,20],[2,17],[0,15],[3,22],[2,25],[2,30],[3,33],[5,34],[4,30],[-4,20],[7,22],[10,21],[13,19],[14,24],[16,21],[18,22],[19,25],[20,26],[23,24],[16,18],[14,15],[38,11],[39,9],[40,7],[41,13],[42,11],[43,9],[44,12],[45,8],[46,13],[47,11],[44,5],[45,4],[47,4],[43,7],[39,6],[49,5],[4,-10],[42,-15],[44,-12],[46,-14],[48,-16],[50,-14],[43,-20],[45,-19],[47,-20],[16,58],[18,54],[20,53],[21,57],[17,56],[16,52],[19,55],[40,10],[42,9],[43,12],[45,11],[44,8],[46,9],[41,6]];
const acp200Earn: Pt[] = [[-65,0],[-62,2],[-60,3],[-58,2],[-56,1],[-63,0],[-61,1],[-59,0],[-57,0],[-55,-2],[-53,-2],[-52,-2],[-62,-3],[-60,-2],[-58,-3],[-62,-5],[-60,-5],[-58,-4],[-31,-10],[-29,-11],[-27,-9],[-25,-8],[-23,-7],[-21,-6],[-19,-5],[-17,-4],[-28,-12],[-26,-12],[-27,-15],[-16,-28],[-14,-27],[-15,-22],[-13,-22],[-12,-20],[-11,-22],[-10,-21],[-9,-23],[-8,-21],[-12,-25],[-10,-24],[-7,-27],[-6,-29],[-36,-35],[-33,-34],[-32,-32],[-31,-36],[-30,-35],[-29,-32],[-28,-36],[-27,-33],[-26,-30],[-25,-29],[-24,-32],[-32,-39],[-30,-40],[-28,-38],[-26,-40],[-25,-36],[-24,-41],[-21,-38],[-22,-38],[-15,-55],[-13,-53],[-13,-58],[-11,-56],[-11,-60],[-10,-62],[-11,-50],[-9,-49],[-7,-50],[-5,-50],[-3,-50],[-8,-54],[-6,-55],[-4,-56],[-3,-53],[-1,-51],[1,-50],[3,-51],[5,-52],[-2,-25],[-1,-24],[-1,-28],[1,-28],[2,-30],[3,-33],[0,-32],[-1,-36],[-2,-38],[6,-37],[8,-37],[9,-39],[11,-38],[11,-40],[7,-40],[13,-45],[15,-47],[16,-44],[18,-43],[20,-44],[22,-46],[24,-48],[19,-48],[14,-50],[17,-50],[21,-50],[17,-37],[42,-40],[44,-40],[46,-40],[1,-8],[3,-10],[5,-9],[7,-8],[43,-16],[-18,27],[-16,27],[-15,25],[-17,23],[-18,20],[-20,19],[-18,17],[-16,18],[-14,18],[-17,7],[-15,7],[-13,7],[-10,24],[-9,23],[-8,22],[-7,20],[-9,17],[-8,15],[-7,12],[-6,10],[-9,10],[-8,8],[-7,6],[-5,4],[-3,3],[-2,5],[-3,9],[-1,12],[1,8],[0,10],[-9,1],[-11,-3],[-10,-4],[-12,-4],[-8,-3],[-6,-2],[-4,-5],[-2,-5],[0,-5],[-13,-2],[-11,-1],[-7,0],[-5,-1],[2,-6],[4,-6],[6,-7],[-35,14],[-33,16],[-32,14],[-31,16],[-32,12],[-30,11],[-30,15],[-31,13],[-3,33],[5,48],[6,46],[6,23],[7,22],[11,20],[7,10],[7,4],[19,47],[41,37],[-61,-1],[-59,2],[-60,0],[-57,-2],[-56,-2],[-54,-2],[-59,-5],[-61,-4],[-30,-10],[-28,-10],[-26,-9],[-24,-8],[-22,-6],[-20,-5],[-18,-5],[-32,-37],[-30,-37],[-29,-38],[-27,-38],[-28,-34],[-26,-36],[-30,-33],[-25,-33],[-14,-22],[-12,-22],[-9,-21],[-15,-26],[-13,-28],[-11,-25],[-12,-56],[-10,-58],[-12,-53],[-10,-50],[-8,-50],[-6,-50],[-4,-50],[-7,-52],[-9,-56],[-5,-53],[-12,23],[-11,22],[-17,26],[-16,21],[-19,18],[-17,18],[-15,18],[-16,7],[-14,7],[-8,5],[-9,4],[-4,2],[-6,3],[-3,6],[-2,11],[-7,9],[-8,12],[-6,7],[-5,8],[-4,10],[-10,-2],[-12,-2],[-9,-4],[-7,-2],[-3,-3],[-1,-4],[-5,-3],[-33,13],[-34,15],[-31,11],[8,-38],[10,-38]];
const acp200Money: Pt[] = [[-13.5,26],[-13.5,8],[-12,43],[3.5,48],[4,47],[2,28],[3,30],[4,32],[5,33],[18,60],[19,62],[20,63],[21,64],[18,58],[18,51],[18,48],[-5,20],[-3,24],[0,23],[5,20],[5,17],[-4,15],[-2,15],[-1,16],[1,15],[2,14],[4,15],[5,13],[6,12],[7,11],[-8,14],[-5,8],[-3,14],[0,10],[3,11],[4,8],[6,6],[9,15],[10,14],[11,13],[12,14],[13,13],[16,13],[9,20],[12,21],[14,22],[15,23],[19,19],[21,24],[22,22],[8,8],[11,7],[14,5],[16,5],[18,3],[20,2],[22,1],[23,0],[3,6],[2,-6],[36,9],[36,8],[38,5],[41,15],[40,8],[46,6],[47,7],[48,6],[49,6],[48,5]];

const panels = [
  { title: "AVI Ntrain=1000", series: [avi1000Acq, avi1000Earn, avi1000Money], xDomain: [-81.2, 73.3], yDomain: [-52.9, 58.6], xTicks: [-50, 0, 50], yTicks: [-40, -20, 0, 20, 40] },
  { title: "AVI Ntrain=500", series: [avi500Acq, avi500Earn, avi500Money], xDomain: [-59.8, 65.2], yDomain: [-64.1, 69.8], xTicks: [-50, -25, 0, 25, 50], yTicks: [-50, -25, 0, 25, 50] },
  { title: "AVI Ntrain=200", series: [avi200Acq, avi200Earn, avi200Money], xDomain: [-57.6, 50.5], yDomain: [-69.2, 103.4], xTicks: [-40, -20, 0, 20, 40], yTicks: [-50, 0, 50, 100] },
  { title: "ACP Ntrain=1000", series: [acp1000Acq, acp1000Earn, acp1000Money], xDomain: [-50.1, 56.7], yDomain: [-64.6, 75], xTicks: [-40, -20, 0, 20, 40], yTicks: [-50, -25, 0, 25, 50, 75] },
  { title: "ACP Ntrain=500", series: [acp500Acq, acp500Earn, acp500Money], xDomain: [-63.3, 71.8], yDomain: [-56.6, 57.8], xTicks: [-50, -25, 0, 25, 50], yTicks: [-40, -20, 0, 20, 40] },
  { title: "ACP Ntrain=200", series: [acp200Acq, acp200Earn, acp200Money], xDomain: [-71.6, 56.7], yDomain: [-68.6, 72.8], xTicks: [-50, -25, 0, 25, 50], yTicks: [-50, -25, 0, 25, 50] },
];

const W = 1302, H = 635;
const lefts = [57.5, 496.7, 935.7];
const tops = [34.7, 368.7];
const plotW = [361, 362, 362];
const plotH = 235.5;
const font = "'DejaVu Sans', sans-serif";
const textColor = "#262626";
const spine = "#555555";

export default function App() {
  const ref = useRef<SVGSVGElement>(null);

  useEffect(() => {
    const svg = d3.select(ref.current);
    svg.selectAll("*").remove();

    // the reference is an upscaled screenshot, so everything is a little soft
    svg.append("filter").attr("id", "soft")
      .attr("filterUnits", "userSpaceOnUse")
      .attr("x", 0).attr("y", 0).attr("width", W).attr("height", H)
      .append("feGaussianBlur").attr("stdDeviation", 0.45);
    const root = svg.append("g").attr("filter", "url(#soft)");

    panels.forEach((p, i) => {
      const col = i % 3, row = Math.floor(i / 3);
      const left = lefts[col], top = tops[row], w = plotW[col];
      const x = d3.scaleLinear().domain(p.xDomain).range([0, w]);
      const y = d3.scaleLinear().domain(p.yDomain).range([plotH, 0]);

      const g = root.append("g").attr("transform", `translate(${left},${top})`);
      const clipId = `clip-${i}`;
      g.append("clipPath").attr("id", clipId).append("rect").attr("width", w).attr("height", plotH);

      // points, one layer per category so later ones cover earlier ones
      const marks = g.append("g").attr("clip-path", `url(#${clipId})`);
      p.series.forEach((pts, s) => {
        marks.append("g").attr("fill", colors[s])
          .selectAll("circle").data(pts).enter().append("circle")
          .attr("cx", (d) => x(d[0]))
          .attr("cy", (d) => y(d[1]))
          .attr("r", 4.4);
      });

      // axes
      const xAxis = g.append("g").attr("transform", `translate(0,${plotH})`)
        .call(d3.axisBottom(x).tickValues(p.xTicks).tickSize(5).tickPadding(5));
      const yAxis = g.append("g")
        .call(d3.axisLeft(y).tickValues(p.yTicks).tickSize(5).tickPadding(5));
      [xAxis, yAxis].forEach((a) => {
        a.select(".domain").remove();
        a.selectAll("line").attr("stroke", spine).attr("stroke-width", 1);
        a.selectAll("text").attr("fill", textColor).style("font-family", font).style("font-size", "19.5px");
      });
      g.append("rect").attr("width", w).attr("height", plotH)
        .attr("fill", "none").attr("stroke", spine).attr("stroke-width", 1);

      g.append("text").attr("x", w / 2 - 0.5).attr("y", -7).attr("text-anchor", "middle")
        .attr("fill", textColor).style("font-family", font).style("font-size", "23.3px")
        .text(p.title);

      // legend
      const lg = g.append("g").attr("transform", `translate(${w - 9.7 - 161},${plotH - 9.7 - 93.7})`);
      lg.append("rect").attr("width", 161).attr("height", 93.7).attr("rx", 3)
        .attr("fill", "#ffffff").attr("fill-opacity", 0.8)
        .attr("stroke", "#cccccc").attr("stroke-opacity", 0.8);
      categories.forEach((c, s) => {
        const ly = 18 + s * 29.6;
        lg.append("circle").attr("cx", 26.7).attr("cy", ly).attr("r", 3.8).attr("fill", colors[s]);
        lg.append("text").attr("x", 62.5).attr("y", ly + 6.5).attr("fill", textColor)
          .style("font-family", font).style("font-size", "19.3px").text(c);
      });
    });
  }, []);

  return <svg ref={ref} width={W} height={H} style={{ position: "absolute", left: 0, top: 0 }} />;
}
